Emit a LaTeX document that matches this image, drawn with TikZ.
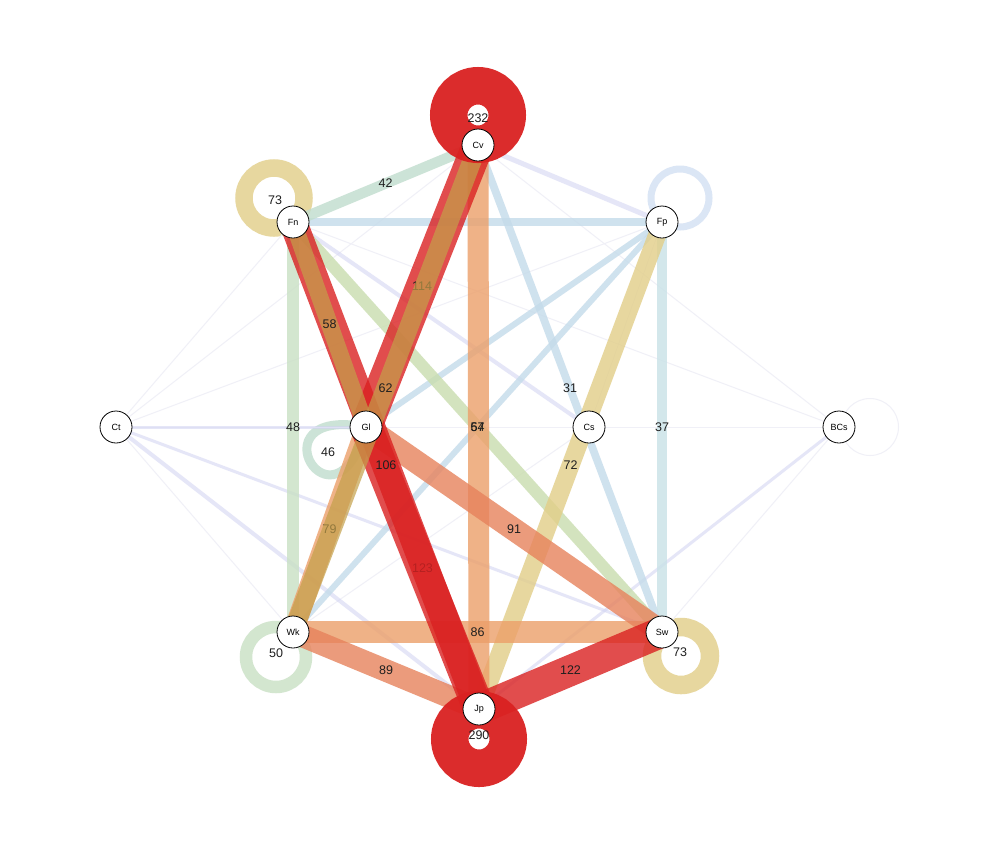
\documentclass[tikz,border=0pt]{standalone}
\usepackage{fontspec}
\setmainfont{Liberation Sans}
\usetikzlibrary{backgrounds,calc}
\definecolor{cred}{HTML}{DA2121}
\definecolor{csal}{HTML}{E7825C}
\definecolor{corg}{HTML}{EC9F69}
\definecolor{ctan}{HTML}{E2CE88}
\definecolor{colv}{HTML}{C4A04A}
\definecolor{cgrn}{HTML}{C9E0C4}
\definecolor{cgrnb}{HTML}{C0DDCD}
\definecolor{cygr}{HTML}{C9DDAE}
\definecolor{cblu}{HTML}{C4DBEA}
\definecolor{cblub}{HTML}{D3E0F3}
\definecolor{cteal}{HTML}{C9E2E7}
\definecolor{clav}{HTML}{D0D2F2}
\definecolor{cfnt}{HTML}{F0F0F7}
\begin{document}
\begin{tikzpicture}[x=1pt,y=-1pt,
  nd/.style={circle,draw=black,fill=white,line width=0.8pt,minimum size=32pt,inner sep=0pt,font=\fontsize{9}{10}\selectfont},
  lbl/.style={font=\fontsize{12.5}{14}\selectfont,text=black!88,inner sep=0pt},
  ed/.style={draw opacity=0.8,line cap=butt},
  lav/.style={draw=clav,draw opacity=0.55,line cap=butt},
  fnt/.style={draw=cfnt,line width=1pt},
]
\useasboundingbox (0,0) rectangle (1000,855);
% nodes
\node[nd] (Cv) at (478,145) {Cv};
\node[nd] (Fn) at (293,222) {Fn};
\node[nd] (Fp) at (662,222) {Fp};
\node[nd] (Ct) at (116,427) {Ct};
\node[nd] (Gl) at (366,427) {Gl};
\node[nd] (Cs) at (589,427) {Cs};
\node[nd] (BCs) at (839,427) {BCs};
\node[nd] (Wk) at (293,632) {Wk};
\node[nd] (Sw) at (662,632) {Sw};
\node[nd] (Jp) at (479,709) {Jp};
\begin{pgfonlayer}{background}
\fill[white] (0,0) rectangle (1000,855);
% loops (light)
\draw[draw=cfnt,line width=1pt] ($(BCs)+(31,0)$) circle[radius=28.5pt];
\draw[cblub,draw opacity=0.8,line width=7pt] ($(Fp)+(18,-24)$) circle[radius=29pt];
\draw[ctan,draw opacity=0.8,line width=17.5pt] ($(Fn)+(-19,-24)$) circle[radius=30pt];
\draw[cgrn,draw opacity=0.8,line width=12.5pt] ($(Wk)+(-17,25)$) circle[radius=30pt];
\draw[ctan,draw opacity=0.8,line width=18.5pt] ($(Sw)+(19,24)$) circle[radius=29pt];
\draw[cgrnb,draw opacity=0.8,line width=9pt] (Gl.center) .. controls (250,405) and (335,545) .. (Gl.center);
% faint edges
\draw[fnt] (Ct.center) -- (Fn.center);
\draw[fnt] (Ct.center) -- (Cv.center);
\draw[fnt] (Ct.center) -- (Fp.center);
\draw[fnt] (Ct.center) -- (Wk.center);
\draw[fnt] (Ct.center) -- (BCs.center);
\draw[fnt] (Fn.center) -- (BCs.center);
\draw[fnt] (Cv.center) -- (BCs.center);
\draw[fnt] (Wk.center) -- (Cs.center);
\draw[fnt] (BCs.center) -- (Sw.center);
\draw[fnt] (Fp.center) -- (Cs.center);
% lavender edges
\draw[lav,line width=3pt] (Ct.center) -- (Gl.center);
\draw[lav,line width=3pt] (Ct.center) -- (Sw.center);
\draw[lav,line width=4pt] (Ct.center) -- (Jp.center);
\draw[lav,line width=4pt] (Fn.center) -- (Cs.center);
\draw[lav,line width=5pt] (Cv.center) -- (Fp.center);
\draw[lav,line width=3pt] (BCs.center) -- (Jp.center);
% blue edges
\draw[ed,cblu,line width=6pt] (Fp.center) -- (Gl.center);
\draw[ed,cblu,line width=6pt] (Fp.center) -- (Wk.center);
\draw[ed,cblu,line width=7.75pt] (Cv.center) -- node[lbl]{31} (Sw.center);
\draw[ed,cblu,line width=8pt] (Fn.center) -- (Fp.center);
\draw[ed,cteal,line width=9.25pt] (Fp.center) -- node[lbl]{37} (Sw.center);
% green edges
\draw[ed,cgrnb,line width=10.5pt] (Cv.center) -- node[lbl]{42} (Fn.center);
\draw[ed,cgrn,line width=12pt] (Fn.center) -- node[lbl]{48} (Wk.center);
\draw[ed,cygr,line width=12pt] (Fn.center) -- (Sw.center);
% tan / orange
\draw[ed,ctan,line width=18pt] (Fp.center) -- node[lbl]{72} (Jp.center);
\draw[ed,corg,line width=21pt] (Cv.center) -- (Jp.center);
\node[lbl] at (477.5,427) {57};
\node[lbl] at (477.5,427) {64};
\draw[ed,corg,line width=21.5pt] (Wk.center) -- node[lbl]{86} (Sw.center);
\draw[ed,corg,line width=20pt] (Gl.center) -- node[lbl]{79} (Wk.center);
% salmon
\draw[ed,csal,line width=23pt] (Gl.center) -- node[lbl]{91} (Sw.center);
\draw[ed,csal,line width=22.5pt] (Wk.center) -- node[lbl]{89} (Jp.center);
% red
\draw[ed,cred,line width=32pt] (Cv.center) -- node[lbl]{114} (Gl.center);
\draw[ed,cred,line width=32pt] (Gl.center) -- node[lbl]{123} (Jp.center);
\draw[ed,cred,line width=28pt] (Fn.center) -- node[lbl]{106} (Jp.center);
\draw[ed,cred,line width=31pt] (Sw.center) -- node[lbl]{122} (Jp.center);
% olive
\draw[colv,draw opacity=0.7,line width=19pt] (Cv.center) -- node[lbl]{62} (Wk.center);
\draw[colv,draw opacity=0.7,line width=17pt] (Fn.center) -- node[lbl]{58} (Gl.center);
% red loops
\draw[cred,draw opacity=0.95,line width=37.5pt] ($(Cv)+(0,-30)$) circle[radius=29.25pt];
\draw[cred,draw opacity=0.95,line width=37.5pt] ($(Jp)+(0,30)$) circle[radius=29.25pt];
% loop labels
\node[lbl] at ($(Cv)+(0,-27)$) {232};
\node[lbl] at ($(Fn)+(-18,-22)$) {73};
\node[lbl] at (328,452) {46};
\node[lbl] at ($(Wk)+(-17,21)$) {50};
\node[lbl] at ($(Sw)+(18,20)$) {73};
\node[lbl] at ($(Jp)+(0,26)$) {290};
\end{pgfonlayer}
\end{tikzpicture}
\end{document}
